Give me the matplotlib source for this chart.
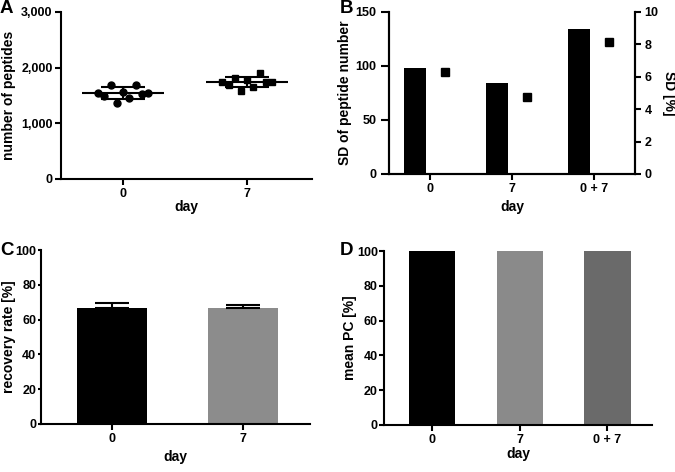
import numpy as np
import matplotlib.pyplot as plt

plt.rcParams['font.family'] = ['Liberation Sans', 'DejaVu Sans']
plt.rcParams['font.weight'] = 'bold'
plt.rcParams['axes.labelweight'] = 'bold'
plt.rcParams['axes.linewidth'] = 1.5
plt.rcParams['xtick.major.width'] = 1.5
plt.rcParams['ytick.major.width'] = 1.5
plt.rcParams['xtick.major.size'] = 4
plt.rcParams['ytick.major.size'] = 4
plt.rcParams['xtick.major.pad'] = 2.5
plt.rcParams['ytick.major.pad'] = 1.5
plt.rcParams['xtick.labelsize'] = 9
plt.rcParams['ytick.labelsize'] = 9
plt.rcParams['axes.labelsize'] = 10

# panel A: peptide numbers per replicate (left-to-right order as drawn)
days_a = ['0', '7']
peptides_day0 = [1550, 1490, 1689, 1370, 1568, 1450, 1689, 1527, 1550]
peptides_day7 = [1736, 1688, 1820, 1587, 1778, 1647, 1898, 1736, 1748]

# panel B
days_b = ['0', '7', '0 + 7']
sd_number = [98, 84, 134]
sd_percent = [6.3, 4.75, 8.15]

# panel C
days_c = ['0', '7']
recovery = [66.9, 66.6]
recovery_err = [2.7, 2.0]
colors_c = ['black', '#8c8c8c']

# panel D
days_d = ['0', '7', '0 + 7']
mean_pc = [100, 100, 100]
colors_d = ['black', '#8a8a8a', '#6a6a6a']

fig = plt.figure(figsize=(6.75, 4.72), dpi=100)


def style(ax):
    ax.spines['top'].set_visible(False)
    ax.spines['right'].set_visible(False)
    ax.tick_params(direction='out')


# ---- A
axA = fig.add_axes([0.0904, 0.6208, 0.3716, 0.3538])
style(axA)
for i, vals in enumerate([peptides_day0, peptides_day7]):
    vals = np.array(vals)
    xs = i + np.linspace(-0.2, 0.2, len(vals))
    m = vals.mean()
    s = vals.std(ddof=1)
    axA.hlines(m, i - 0.33, i + 0.33, color='black', lw=1.5, zorder=2)
    axA.errorbar(i, m, yerr=s, fmt='none', ecolor='black', elinewidth=1.5,
                 capsize=16, capthick=1.5, zorder=2)
    axA.plot(xs, vals, ls='none', marker='o' if i == 0 else 's',
             color='black', ms=5, zorder=3)
axA.set_xlim(-0.5, 1.52)
axA.set_ylim(0, 3000)
axA.set_yticks([0, 1000, 2000, 3000])
axA.set_yticklabels(['0', '1,000', '2,000', '3,000'])
axA.tick_params(axis='y', length=4.5)
axA.set_xticks(range(len(days_a)))
axA.set_xticklabels(days_a)
axA.set_xlabel('day', va='top')
axA.xaxis.set_label_coords(0.5, -0.126)
axA.set_ylabel('number of peptides')
axA.yaxis.set_label_coords(-0.18, 0.5)

# ---- B
axB = fig.add_axes([0.5763, 0.6314, 0.3644, 0.3432])
axB.spines['top'].set_visible(False)
xb = np.arange(len(days_b))
axB.bar(xb - 0.18, sd_number, width=0.27, color='black')
axB.set_xlim(-0.5, 2.5)
axB.set_ylim(0, 150)
axB.set_yticks([0, 50, 100, 150])
axB.tick_params(axis='y', length=6, pad=3)
axB.set_xticks(xb)
axB.set_xticklabels(days_b)
axB.set_xlabel('day', va='top')
axB.xaxis.set_label_coords(0.5, -0.16)
axB.set_ylabel('SD of peptide number')
axB.yaxis.set_label_coords(-0.15, 0.5)
axB2 = axB.twinx()
axB2.spines['top'].set_visible(False)
axB2.plot(xb + 0.18, sd_percent, ls='none', marker='s', color='black', ms=5.5)
axB2.set_ylim(0, 10)
axB2.set_yticks([0, 2, 4, 6, 8, 10])
axB2.tick_params(axis='y', length=4, pad=3)
axB2.set_ylabel('SD [%]', rotation=270, va='bottom')
axB2.yaxis.set_label_coords(1.11, 0.5)

# ---- C
axC = fig.add_axes([0.0607, 0.1017, 0.3985, 0.3686])
style(axC)
xc = np.arange(len(days_c))
axC.bar(xc, recovery, width=0.53, color=colors_c)
axC.errorbar(xc, recovery, yerr=[np.zeros(len(xc)), recovery_err], fmt='none',
             ecolor='black', elinewidth=1.5, capsize=12, capthick=1.5)
axC.set_xlim(-0.54, 1.51)
axC.set_ylim(0, 100)
axC.set_yticks(range(0, 101, 20))
axC.tick_params(axis='y', length=2.5, pad=1)
axC.set_xticks(xc)
axC.set_xticklabels(days_c)
axC.set_xlabel('day', va='top')
axC.xaxis.set_label_coords(0.5, -0.149)
axC.set_ylabel('recovery rate [%]')
axC.yaxis.set_label_coords(-0.093, 0.5)

# ---- D
axD = fig.add_axes([0.5689, 0.0996, 0.3970, 0.3686])
style(axD)
xd = np.arange(len(days_d))
axD.bar(xd, mean_pc, width=0.53, color=colors_d)
axD.set_xlim(-0.55, 2.51)
axD.set_ylim(0, 100)
axD.set_yticks(range(0, 101, 20))
axD.tick_params(axis='y', length=3.5, pad=1)
axD.set_xticks(xd)
axD.set_xticklabels(days_d)
axD.set_xlabel('day', va='top')
axD.xaxis.set_label_coords(0.5, -0.126)
axD.set_ylabel('mean PC [%]')
axD.yaxis.set_label_coords(-0.10, 0.5)

for lab, x, y in [('A', 0.0, 1.0), ('B', 0.503, 1.0), ('C', 0.0, 0.487), ('D', 0.503, 0.487)]:
    fig.text(x, y, lab, fontsize=13.5, fontweight='bold', ha='left', va='top')

fig.savefig('out.png', dpi=100)
